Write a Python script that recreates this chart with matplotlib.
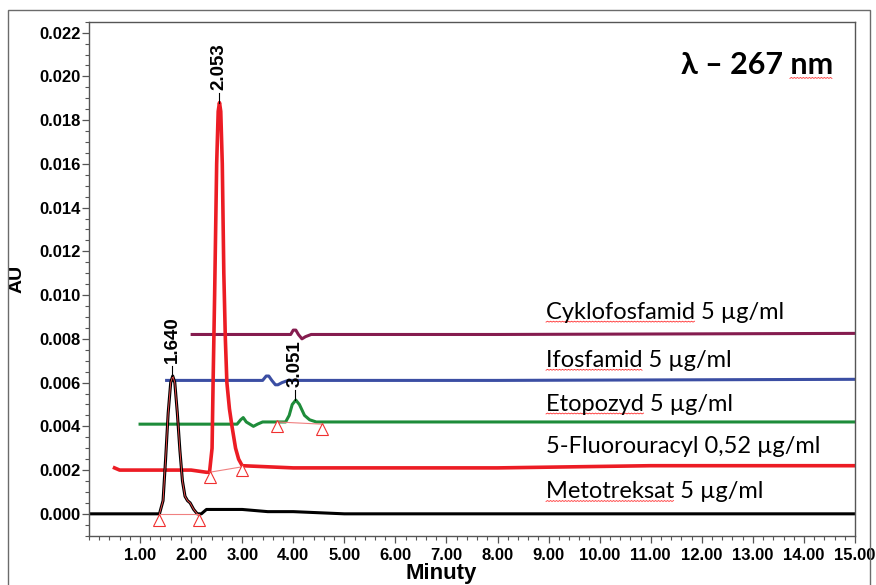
import numpy as np
import matplotlib.pyplot as plt
from matplotlib.ticker import MultipleLocator, FixedLocator, FuncFormatter

# ---------------- dane chromatogramow ----------------
# Metotreksat (czarny)
met_t = [0.0, 0.5, 1.0, 1.38, 1.45, 1.50, 1.55, 1.60, 1.64, 1.68, 1.73, 1.78,
         1.83, 1.88, 1.93, 1.98, 2.05, 2.12, 2.20, 2.30, 2.60, 3.00, 3.50, 4.00,
         5.00, 7.00, 9.00, 11.0, 13.0, 15.0]
met_y = [0.0000, 0.0000, 0.0000, 0.0000, 0.0006, 0.0025, 0.0046, 0.0060, 0.0063,
         0.0060, 0.0046, 0.0029, 0.0015, 0.0008, 0.0006, 0.0005, 0.0002, 0.0000,
         0.0000, 0.0002, 0.0002, 0.0002, 0.0001, 0.0001, 0.0000, 0.0000, 0.0000,
         0.0000, 0.0000, 0.0000]

# 5-Fluorouracyl (czerwony)
fu_t = [0.5, 0.6, 1.0, 2.0, 2.30, 2.36, 2.41, 2.43, 2.46, 2.50, 2.53, 2.555,
        2.58, 2.61, 2.64, 2.67, 2.70, 2.75, 2.80, 2.87, 2.93, 3.00, 4.00, 6.00,
        8.00, 11.0, 15.0]
fu_y = [0.0021, 0.0020, 0.0020, 0.0020, 0.0019, 0.0019, 0.0030, 0.0060, 0.0100,
        0.0160, 0.0184, 0.0188, 0.0184, 0.0160, 0.0110, 0.0080, 0.0060, 0.0048,
        0.0040, 0.0030, 0.0025, 0.0022, 0.0021, 0.0021, 0.0021, 0.0022, 0.0022]

# Etopozyd (zielony)
eto_t = [1.0, 2.0, 2.90, 2.97, 3.02, 3.08, 3.15, 3.22, 3.30, 3.40, 3.85, 3.92,
         3.98, 4.05, 4.12, 4.22, 4.32, 4.45, 6.0, 10.0, 15.0]
eto_y = [0.0041, 0.0041, 0.0041, 0.0043, 0.0044, 0.0042, 0.0041, 0.0040, 0.0041,
         0.0042, 0.0042, 0.0045, 0.0050, 0.0052, 0.0050, 0.0045, 0.0043, 0.0042,
         0.0042, 0.0042, 0.0042]

# Ifosfamid (niebieski)
ifo_t = [1.52, 2.5, 3.40, 3.47, 3.52, 3.58, 3.65, 3.70, 3.78, 3.90, 8.0, 15.0]
ifo_y = [0.0061, 0.0061, 0.0061, 0.0063, 0.0063, 0.0061, 0.0059, 0.0059, 0.0060,
         0.0061, 0.0061, 0.00615]

# Cyklofosfamid (fioletowy)
cyk_t = [2.02, 3.0, 3.95, 4.00, 4.05, 4.10, 4.17, 4.24, 4.35, 8.0, 15.0]
cyk_y = [0.0082, 0.0082, 0.0082, 0.0084, 0.0084, 0.0082, 0.0080, 0.0081, 0.0082,
         0.0082, 0.00825]

# punkty calkowania (trojkaty)
calk_t = [[1.38, 2.15], [2.36, 3.00], [3.69, 4.56]]
calk_y = [[-0.00026, -0.00026], [0.0017, 0.0020], [0.0040, 0.0039]]
linia_y = [[0.0000, 0.0000], [0.0019, 0.00215], [0.0042, 0.0041]]

# czasy retencji
rt_txt = ["1.640", "2.053", "3.051"]
rt_x = [1.63, 2.55, 4.04]
rt_top = [0.0063, 0.0188, 0.0052]

nazwy = ["Cyklofosfamid 5 \u00b5g/ml", "Ifosfamid 5 \u00b5g/ml", "Etopozyd 5 \u00b5g/ml",
         "5-Fluorouracyl 0,52 \u00b5g/ml", "Metotreksat 5 \u00b5g/ml"]
nazwy_y = [0.0092, 0.0070, 0.0050, 0.0031, 0.0010]
podkreslone = ["Cyklofosfamid", "Ifosfamid", "Etopozyd", None, "Metotreksat"]

kol_met = "#000000"
kol_fu = "#ec1c24"
kol_eto = "#1e8c3a"
kol_ifo = "#3b4ea3"
kol_cyk = "#851c4f"

fig = plt.figure(figsize=(8.76, 5.85), dpi=100)
ax = fig.add_axes([89 / 876, 1 - 535.7 / 585, (855 - 89) / 876, (535.7 - 21.7) / 585])
ax.set_xlim(0, 15)
ax.set_ylim(-0.001, 0.0225)

# ramka zewnetrzna
fig.patches.append(plt.Rectangle((8 / 876, -0.1), 862 / 876, (575 / 585) + 0.1,
                                 transform=fig.transFigure, fill=False,
                                 edgecolor="#6b6b6b", lw=1.0))

ax.plot(cyk_t, cyk_y, color=kol_cyk, lw=2.2)
ax.plot(ifo_t, ifo_y, color=kol_ifo, lw=2.2)
ax.plot(eto_t, eto_y, color=kol_eto, lw=2.2)
ax.plot(fu_t, fu_y, color=kol_fu, lw=2.6)
ax.plot(met_t, met_y, color=kol_met, lw=2.2)
ax.plot(met_t[3:18], met_y[3:18], color="#ff5050", lw=0.6)

for tt, yy, ll in zip(calk_t, calk_y, linia_y):
    ax.plot(tt, ll, color="#f08080", lw=0.8)
    ax.plot(tt, yy, linestyle="none", marker="^", markersize=8,
            markerfacecolor="white", markeredgecolor="#f03030", markeredgewidth=0.8)

for txt, x, top in zip(rt_txt, rt_x, rt_top):
    ax.plot([x, x], [top, top + 0.00045], color="black", lw=0.8)
    ax.text(x, top + 0.0006, txt, rotation=90, ha="center", va="bottom",
            fontsize=13.5, fontweight="bold", family="Liberation Sans")


def falka(rend, tekst):
    # czerwone podkreslenie jak w edytorze tekstu
    bb = tekst.get_window_extent(rend)
    xs = np.arange(bb.x0, bb.x1, 1.5)
    ys = bb.y0 + 1 + 0.9 * (np.arange(len(xs)) % 2)
    ax.plot(xs, ys, color="#ff3030", lw=0.6, transform=None)


fig.canvas.draw()
rend = fig.canvas.get_renderer()
for txt, y, slowo in zip(nazwy, nazwy_y, podkreslone):
    ax.text(8.95, y, txt, ha="left", va="center", fontsize=17,
            family=["Lato", "DejaVu Sans"])
    if slowo:
        tw = ax.text(8.95, y, slowo, ha="left", va="center", fontsize=17,
                     family=["Lato", "DejaVu Sans"], alpha=0)
        falka(rend, tw)

ax.text(0.971, 0.915, "\u03bb \u2013 267 nm", transform=ax.transAxes,
        ha="right", va="center", fontsize=22, fontweight="bold",
        family=["Lato", "DejaVu Sans"])
t_nm = ax.text(0.971, 0.915, "nm", transform=ax.transAxes, ha="right", va="center",
               fontsize=22, fontweight="bold", family=["Lato", "DejaVu Sans"], alpha=0)
falka(rend, t_nm)

ax.xaxis.set_major_locator(FixedLocator(np.arange(1, 16)))
ax.xaxis.set_minor_locator(MultipleLocator(0.2))
ax.yaxis.set_major_locator(MultipleLocator(0.002))
ax.yaxis.set_minor_locator(MultipleLocator(0.0005))
ax.xaxis.set_major_formatter(FuncFormatter(lambda v, p: "%.2f" % v))
ax.yaxis.set_major_formatter(FuncFormatter(lambda v, p: "%.3f" % v))
ax.tick_params(which="major", direction="out", length=5, width=0.9, color="#555555")
ax.tick_params(which="minor", direction="out", length=3, width=0.8, color="#555555")
ax.tick_params(axis="y", which="major", pad=1)
for lab in ax.get_xticklabels() + ax.get_yticklabels():
    lab.set_fontweight("bold")
    lab.set_fontsize(12)
    lab.set_family("Liberation Sans")
for s in ax.spines.values():
    s.set_color("#555555")
    s.set_linewidth(1.0)

ax.set_ylabel("AU", fontsize=14, fontweight="bold", family="Liberation Sans")
ax.yaxis.set_label_coords(-0.083, 0.5)
ax.set_xlabel("Minuty", fontsize=16, fontweight="bold", family="Liberation Sans")
ax.xaxis.set_label_coords(0.46, -0.054)

fig.savefig("out.png", dpi=100)
